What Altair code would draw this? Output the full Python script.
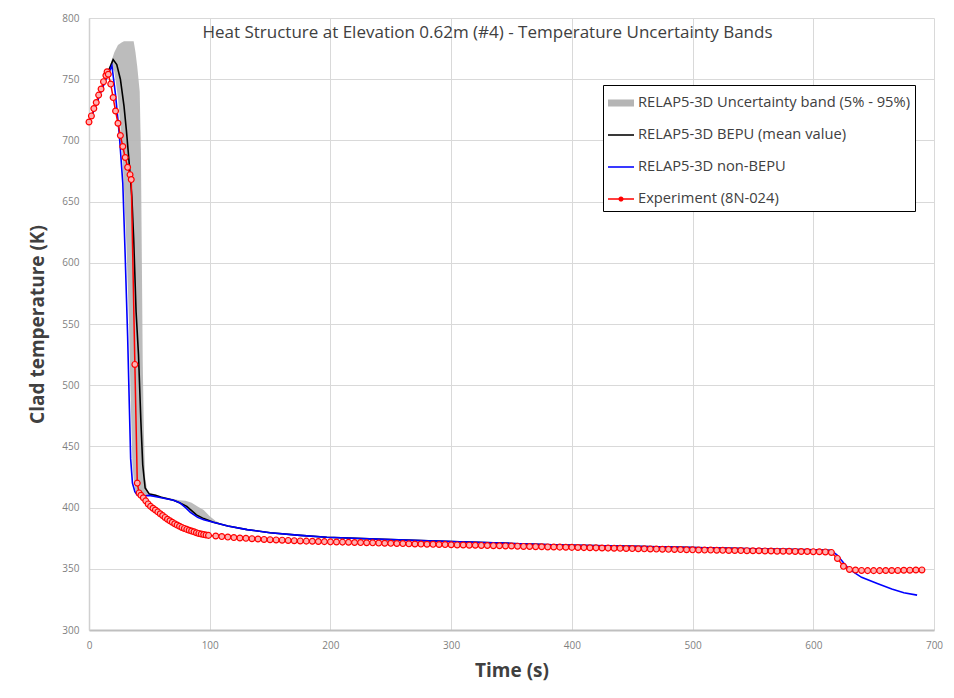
import altair as alt
import pandas as pd

# ---- Experiment (8N-024) clad temperature, K ----
exp_time = [0, 2, 4, 6, 8, 10, 12, 14, 15, 16, 18, 20, 22, 24, 26, 28, 30, 32, 34, 35,
            38, 40, 41.5, 43, 45, 47, 49, 51, 53, 55, 57, 59, 61, 63, 65, 67, 69, 71, 73, 75,
            77, 79, 81, 83, 85, 87, 89, 91, 93, 95, 97, 99,
            105, 110, 115, 120, 125, 130, 135, 140, 145, 150, 155, 160, 165, 170, 175, 180, 185, 190, 195, 200,
            205, 210, 215, 220, 225, 230, 235, 240, 245, 250, 255, 260, 265, 270, 275, 280, 285, 290, 295, 300,
            305, 310, 315, 320, 325, 330, 335, 340, 345, 350, 355, 360, 365, 370, 375, 380, 385, 390, 395, 400,
            405, 410, 415, 420, 425, 430, 435, 440, 445, 450, 455, 460, 465, 470, 475, 480, 485, 490, 495, 500,
            505, 510, 515, 520, 525, 530, 535, 540, 545, 550, 555, 560, 565, 570, 575, 580, 585, 590, 595, 600,
            605, 610, 615, 620, 625, 630, 635, 640, 645, 650, 655, 660, 665, 670, 675, 680, 685, 690]
exp_temp = [715, 720, 726, 731, 737, 742, 748, 753, 756, 754, 746, 735, 724, 714, 704, 695, 686, 678, 672, 668,
            517, 420, 412, 410, 408, 405.5, 403, 401, 399.5, 398, 396.5, 395, 393.5, 392, 390.5, 389.2, 388, 386.8, 385.7, 384.7,
            383.8, 383, 382.2, 381.5, 380.8, 380.2, 379.5, 378.9, 378.4, 378.0, 377.6, 377.3,
            376.8, 376.3, 375.9, 375.5, 375.2, 374.9, 374.6, 374.3, 374.0, 373.8, 373.6, 373.4, 373.2, 373.0, 372.8, 372.6, 372.5, 372.3, 372.2, 372.0,
            371.9, 371.8, 371.7, 371.5, 371.4, 371.3, 371.2, 371.0, 370.9, 370.8, 370.7, 370.6, 370.4, 370.3, 370.2, 370.1, 370.0, 369.9, 369.8, 369.6,
            369.5, 369.4, 369.3, 369.2, 369.1, 369.0, 368.9, 368.8, 368.7, 368.6, 368.5, 368.3, 368.2, 368.1, 368.0, 367.9, 367.8, 367.7, 367.6, 367.5,
            367.4, 367.3, 367.2, 367.1, 367.0, 366.9, 366.8, 366.7, 366.6, 366.5, 366.4, 366.3, 366.2, 366.1, 366.0, 365.9, 365.8, 365.7, 365.6, 365.5,
            365.4, 365.3, 365.3, 365.2, 365.1, 365.0, 365.0, 364.9, 364.8, 364.7, 364.7, 364.6, 364.5, 364.4, 364.4, 364.3, 364.2, 364.1, 364.1, 364.0,
            363.9, 363.8, 363.4, 358.5, 352.0, 349.5, 349.0, 348.7, 348.5, 348.5, 348.5, 348.6, 348.6, 348.7, 348.8, 348.9, 349.0, 349.1]

# ---- RELAP5-3D non-BEPU ----
nonbepu_time = [0, 5, 10, 15, 19, 22, 25, 28, 30, 32, 33.5, 34.5, 36, 38, 40, 45, 50, 60, 70, 75, 80, 84, 90, 95,
                103, 115, 131, 150, 175, 197, 250, 300, 350, 390, 450, 500, 550, 600, 615, 620, 625, 630, 640,
                653, 665, 675, 686]
nonbepu_temp = [715, 727, 740, 752, 761, 737, 706, 665, 605, 540, 480, 440, 420, 413, 410, 409.5, 410, 408, 406,
                404, 400, 396, 392, 390, 388, 385, 382, 379.5, 377.3, 375.8, 373.8, 372.3, 370.7, 369.5, 368.3, 367.3,
                366.3, 365.5, 365, 361, 355, 349.5, 343, 338, 333.5, 330.5, 328.5]

# ---- RELAP5-3D BEPU mean value ----
bepu_time = [0, 5, 10, 15, 20, 23, 26, 29, 31, 33, 35.5, 37, 39, 41, 43, 44.5, 46.5, 50, 55, 60, 70, 75, 81,
             85, 89, 95, 103, 115, 131, 150, 175, 197, 250, 300, 350, 390, 450, 500, 550, 600, 615]
bepu_temp = [715, 727, 741, 754, 766, 762, 750, 728, 708, 685, 654, 620, 560, 525, 470, 435, 416, 411, 410,
             408.5, 406, 404, 401, 397.5, 394, 391, 388, 385, 382, 379.5, 377.3, 375.8, 373.8, 372.3, 370.7, 369.5,
             368.3, 367.3, 366.3, 365.5, 365]

# ---- RELAP5-3D uncertainty band (5% - 95%) ----
band_time = [0, 10, 16, 19, 21, 24, 27, 29, 31, 33, 34.5, 36, 37, 38, 38.5, 40, 42, 43, 43.8, 44.5,
             45.5, 46.5, 48, 50, 55, 60, 70, 75, 80, 85, 90, 95, 100, 105, 110]
band_low = [715, 741, 754, 760, 756, 735, 700, 660, 615, 555, 490, 435, 424, 416, 414, 411, 410.5, 410.5, 410.5, 410,
            410, 410, 409.5, 409.5, 409, 407.5, 405.5, 403.5, 399.5, 395.5, 392, 390, 388.5, 387.5, 386]
band_high = [715, 742, 757, 766, 772, 778, 780, 781, 781, 781, 781, 781, 781, 775, 772, 760, 740, 690, 600, 520,
             460, 425, 415, 412, 411, 409, 407, 406, 405.5, 404, 401, 398, 393, 389, 386.5]

series_names = ["RELAP5-3D Uncertainty band (5% - 95%)", "RELAP5-3D BEPU (mean value)",
                "RELAP5-3D non-BEPU", "Experiment (8N-024)"]
series_colors = ["#b5b5b5", "#000000", "#0000ff", "#ff0000"]
# filled legend glyphs in the unit square: thick bar, thin bars, thin bar with a dot
series_symbols = ["M-1,-0.27H1V0.27H-1Z",
                  "M-1,-0.06H1V0.06H-1Z",
                  "M-1,-0.06H1V0.06H-1Z",
                  "M-1,-0.05H1V0.05H-1ZM0.2,0A0.2,0.2,0,1,1,-0.2,0A0.2,0.2,0,1,1,0.2,0Z"]

x_ticks = [0, 100, 200, 300, 400, 500, 600, 700]
y_ticks = [300, 350, 400, 450, 500, 550, 600, 650, 700, 750, 800]

FONT = "Open Sans"

exp_df = pd.DataFrame({"t": exp_time, "T": exp_temp})
nonbepu_df = pd.DataFrame({"t": nonbepu_time, "T": nonbepu_temp})
bepu_df = pd.DataFrame({"t": bepu_time, "T": bepu_temp})
band_df = pd.DataFrame({"t": band_time, "T": band_low, "T2": band_high})
legend_df = pd.DataFrame({"series": series_names})

x_enc = alt.X("t:Q", scale=alt.Scale(domain=[0, 700], nice=False),
              axis=alt.Axis(values=x_ticks, title="Time (s)"))
y_enc = alt.Y("T:Q", scale=alt.Scale(domain=[300, 800], nice=False, zero=False),
              axis=alt.Axis(values=y_ticks, title="Clad temperature (K)"))

band = alt.Chart(band_df).mark_area(color="#b5b5b5", opacity=0.9).encode(
    x=x_enc, y=y_enc, y2="T2:Q")

bepu = alt.Chart(bepu_df).mark_line(color="#000000", strokeWidth=1.6).encode(x=x_enc, y=y_enc)
nonbepu = alt.Chart(nonbepu_df).mark_line(color="#0000ff", strokeWidth=1.6).encode(x=x_enc, y=y_enc)
exp_line = alt.Chart(exp_df).mark_line(color="#ff0000", strokeWidth=1.5).encode(x=x_enc, y=y_enc)
exp_pts = alt.Chart(exp_df).mark_point(
    shape="circle", size=34, filled=True, fill="#ffb0b0", stroke="#ff0000", strokeWidth=1.2, opacity=1
).encode(x=x_enc, y=y_enc)

legend_def = alt.Legend(
    title=None, orient="none", legendX=514, legendY=67,
    labelFont=FONT, labelFontSize=14.7, labelColor="#404040", labelLimit=400, labelOffset=4,
    symbolSize=676, symbolStrokeWidth=0, symbolOpacity=1, rowPadding=12, padding=5,
    strokeColor="#000000", fillColor="#ffffff",
)
legend_layer = alt.Chart(legend_df).mark_point(filled=True, opacity=0).encode(
    x=alt.value(0), y=alt.value(0),
    color=alt.Color("series:N", scale=alt.Scale(domain=series_names, range=series_colors), legend=legend_def),
    shape=alt.Shape("series:N", scale=alt.Scale(domain=series_names, range=series_symbols), legend=legend_def),
)

chart = alt.layer(band, bepu, nonbepu, exp_line, exp_pts, legend_layer).properties(
    width=845, height=612,
    autosize=alt.AutoSizeParams(type="none"),
    padding={"left": 89, "top": 18, "right": 20, "bottom": 68},
    background="#ffffff",
    title=alt.TitleParams(
        "Heat Structure at Elevation 0.62m (#4) - Temperature  Uncertainty Bands",
        font=FONT, fontSize=17, fontWeight="normal", color="#404040",
        anchor="middle", dx=-24, dy=33,
    ),
).configure_view(strokeWidth=0).configure_axis(
    grid=True, gridColor="#d9d9d9", gridWidth=1, labelFlush=False,
    ticks=False, labelFont=FONT, labelFontSize=10, labelColor="#7f7f7f",
    titleFont=FONT, titleFontSize=19, titleFontWeight="bold", titleColor="#404040",
).configure_axisX(
    domainColor="#bfbfbf", domainWidth=2, labelPadding=10, titlePadding=11,
).configure_axisY(
    domainColor="#d0d0d0", domainWidth=1.5, labelPadding=10, titlePadding=14,
)

chart.save("out.html", embed_options={"renderer": "svg", "actions": False})
